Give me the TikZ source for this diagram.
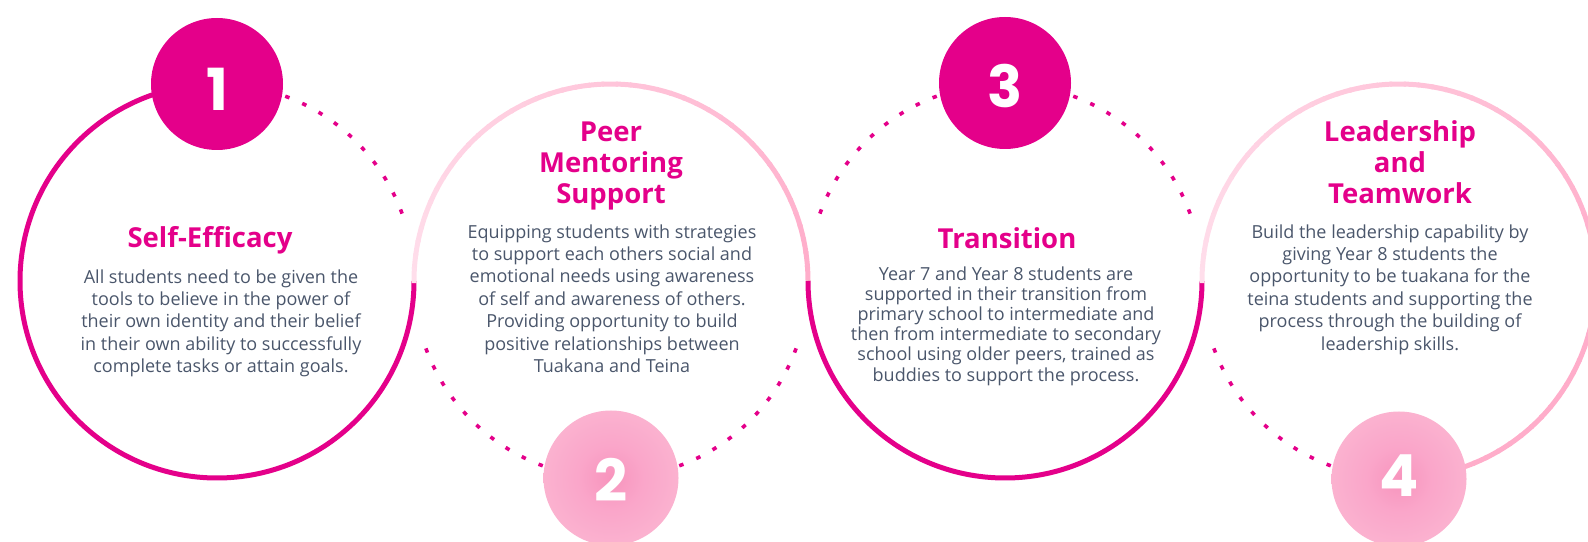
\documentclass[tikz,border=0pt]{standalone}
\usepackage{fontspec}
\setmainfont{Open Sans}
\newfontfamily\numfont{Poppins}
\definecolor{mag}{HTML}{E4008A}
\definecolor{txt}{HTML}{4A566B}
\definecolor{ringlight}{HTML}{FFE0EC}
\definecolor{ringpink}{HTML}{FFADCA}
\pgfdeclareradialshading{badgeshade}{\pgfpoint{0bp}{0bp}}{rgb(0bp)=(0.97,0.58,0.74);rgb(12bp)=(0.98,0.65,0.79);rgb(50bp)=(0.99,0.79,0.86)}
\newcommand{\mytstrut}{\rule{0pt}{22pt}}
\newcommand{\mybstrut}{\rule{0pt}{15pt}}
\tikzset{
  magring/.style={draw=mag, line width=5pt},
  lightring/.style={line width=5pt},
  dotarc/.style={draw=mag, line width=3.6pt, dash pattern=on 4.5pt off 14pt},
  badgedark/.style={circle, fill=mag, minimum size=132pt, inner sep=0pt},
  badgelight/.style={circle, shade, shading=badgeshade, minimum size=135pt, inner sep=0pt},
  numtxt/.style={text=white, font=\numfont\bfseries\fontsize{58}{58}\selectfont, inner sep=0pt, anchor=base},
  titletxt/.style={text=mag, font=\bfseries\fontsize{27.5}{31}\selectfont, align=center, inner sep=0pt, anchor=north},
  bodytxt/.style={text=txt, font=\fontsize{18}{22.4}\selectfont, align=center, inner sep=0pt, anchor=north},
  bodytight/.style={bodytxt, font=\fontsize{18}{20.2}\selectfont}
}
\begin{document}
\begin{tikzpicture}[x=1pt,y=1pt]
\useasboundingbox (0,0) rectangle (1588,541);
\coordinate (c1) at (217,260);
\coordinate (c2) at (611,260);
\coordinate (c3) at (1005,260);
\coordinate (c4) at (1399,260);
% circle 1
\draw[magring] ([shift={(0:197pt)}]c1) arc[start angle=0, end angle=-270, radius=197pt];
\draw[dotarc] ([shift={(20:197pt)}]c1) arc[start angle=20, end angle=72, radius=197pt];
% circle 2
\foreach \a in {0,4,...,176}{
  \pgfmathtruncatemacro\mixv{\a/1.8}
  \draw[lightring, color=ringlight!\mixv!ringpink] ([shift={(\a:197pt)}]c2) arc[start angle=\a, end angle=\a+4.6, radius=197pt];
}
\draw[dotarc] ([shift={(200:197pt)}]c2) arc[start angle=200, end angle=252, radius=197pt];
\draw[dotarc] ([shift={(340:197pt)}]c2) arc[start angle=340, end angle=288, radius=197pt];
% circle 3
\draw[magring] ([shift={(180:197pt)}]c3) arc[start angle=180, end angle=360, radius=197pt];
\draw[dotarc] ([shift={(160:197pt)}]c3) arc[start angle=160, end angle=108, radius=197pt];
\draw[dotarc] ([shift={(20:197pt)}]c3) arc[start angle=20, end angle=72, radius=197pt];
% circle 4
\foreach \a in {-72,-68,...,176}{
  \pgfmathtruncatemacro\mixv{max(0,\a/1.8)}
  \draw[lightring, color=ringlight!\mixv!ringpink] ([shift={(\a:197pt)}]c4) arc[start angle=\a, end angle=\a+4.6, radius=197pt];
}
\draw[dotarc] ([shift={(200:197pt)}]c4) arc[start angle=200, end angle=252, radius=197pt];
% badges
\node[badgedark] (b1) at (217,457) {};
\node[badgelight] (b2) at (611,63) {};
\node[badgedark] (b3) at (1005,458) {};
\node[badgelight] (b4) at (1399,62) {};
\node[numtxt] (n1) at (217,430) {1};
\node[numtxt] (n2) at (611,39) {2};
\node[numtxt] (n3) at (1005,433) {3};
\node[numtxt] (n4) at (1399,44) {4};
% titles
\node[titletxt] (t1) at (210,316) {\mytstrut Self-Efficacy};
\node[titletxt] (t2) at (611,422) {\mytstrut Peer\\Mentoring\\Support};
\node[titletxt] (t3) at (1007,315) {\mytstrut Transition};
\node[titletxt] (t4) at (1400,422) {\mytstrut Leadership\\and\\Teamwork};
% bodies
\node[bodytxt] (d1) at (221,273) {\mybstrut All students need to be given the\\tools to believe in the power of\\their own identity and their belief\\in their own ability to successfully\\complete tasks or attain goals.};
\node[bodytxt] (d2) at (612,318) {\mybstrut Equipping students with strategies\\to support each others social and\\emotional needs using awareness\\of self and awareness of others.\\Providing opportunity to build\\positive relationships between\\Tuakana and Teina};
\node[bodytight] (d3) at (1006,276) {\mybstrut Year 7 and Year 8 students are\\supported in their transition from\\primary school to intermediate and\\then from intermediate to secondary\\school using older peers, trained as\\buddies to support the process.};
\node[bodytxt] (d4) at (1390,318) {\mybstrut Build the leadership capability by\\giving Year 8 students the\\opportunity to be tuakana for the\\teina students and supporting the\\process through the building of\\leadership skills.};
\end{tikzpicture}
\end{document}
